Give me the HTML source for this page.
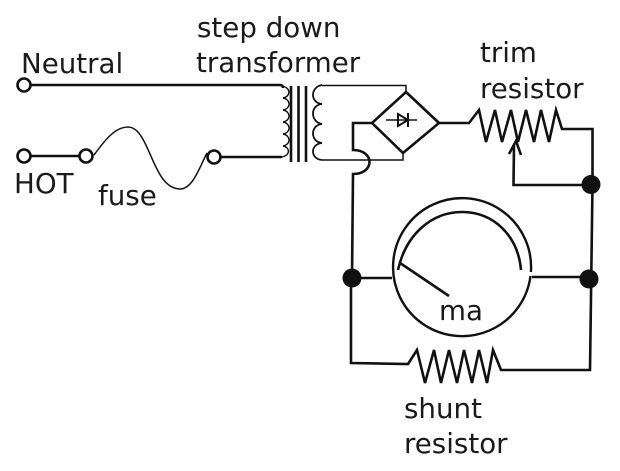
<!DOCTYPE html>
<html><head><meta charset="utf-8"><style>
html,body{margin:0;padding:0;background:#fff;width:620px;height:471px;overflow:hidden}
svg{display:block}
text{font-family:"DejaVu Sans",sans-serif;fill:#1a1a1a}
</style></head><body>
<svg width="620" height="471" viewBox="0 0 620 471" xmlns="http://www.w3.org/2000/svg">
<rect width="620" height="471" fill="#fff"/>
<g fill="none" stroke="#111" stroke-width="2.600" stroke-linejoin="miter">
<path d="M31 85H280Q283 85 283 88"/>
<path d="M31 156H79"/>
<path d="M221 157H282"/>
<path d="M94 155C105 140 115 127 128 127C150 127 152 189 180 189C193 189 200 166 207 153" stroke-width="1.500"/>
<g stroke-width="1.400"><path d="M282 86C292 88 290 97 283 98C290 99 292 108 283 110C290 111 292 120 283 122C290 123 292 132 283 134C290 135 292 144 283 146C290 147 291 156 281 157"/></g>
<path d="M291 86V162M298.500 86V162M306 86V162"/>
<path d="M322 85C310 87 310 103 322 104C310 105 310 122 322 124C310 125 310 142 322 143C310 144 310 159 322 160" stroke-width="1.800"/>
<path d="M322 85.500H406V92" stroke-width="1.500"/>
<path d="M322 160H403V154" stroke-width="1.500"/>
<path d="M406 92L439 123L403 153L372 123Z"/>
<path d="M386 120H417" stroke-width="1.600"/>
<path d="M398 114V126L408 120ZM408 113V127" stroke-width="2"/>
<path d="M372 123H353V150C375 150 375 174 353 174L352 278"/>
<path d="M439 123H469L479 110L486 142L495 110L502 142L511 110L518 142L526 110L534 142L541 110L549 142L556 110L562 129H592.500V185L590 370H501L493 350L487 383L479 350L472 383L464 350L457 383L449 350L441 383L434 350L425 383L417 350L408 364L351 363V278H392"/>
<path d="M514 145L513.500 185H591"/>
<path d="M509 154L516 141L521 155"/>
<path d="M532 277H589"/>
<path d="M400 263L449 296"/>
<path d="M530.900 272A69 69 0 1 0 530.500 276" stroke-width="2.400"/>
<path d="M398 270C406 234 432 212 462 212C494 212 518 236 521 270"/>
<circle cx="24" cy="85" r="6.500" fill="#fff"/>
<circle cx="24" cy="156" r="6.500" fill="#fff"/>
<circle cx="86" cy="156" r="6.500" fill="#fff"/>
<circle cx="214" cy="157" r="6.500" fill="#fff"/>
</g>
<g fill="#111">
<circle cx="591" cy="184.500" r="9.500"/>
<circle cx="352" cy="278" r="9.500"/>
<circle cx="589" cy="279" r="9.500"/>
</g>
<g font-size="27.700">
<text x="21" y="73">Neutral</text>
<text x="197" y="37">step down</text>
<text x="196" y="72">transformer</text>
<text x="480" y="62">trim</text>
<text x="480" y="98">resistor</text>
<text x="14" y="193">HOT</text>
<text x="98" y="205">fuse</text>
<text x="439" y="320">ma</text>
<text x="404" y="418">shunt</text>
<text x="404" y="453">resistor</text>
</g>
</svg>
</body></html>
